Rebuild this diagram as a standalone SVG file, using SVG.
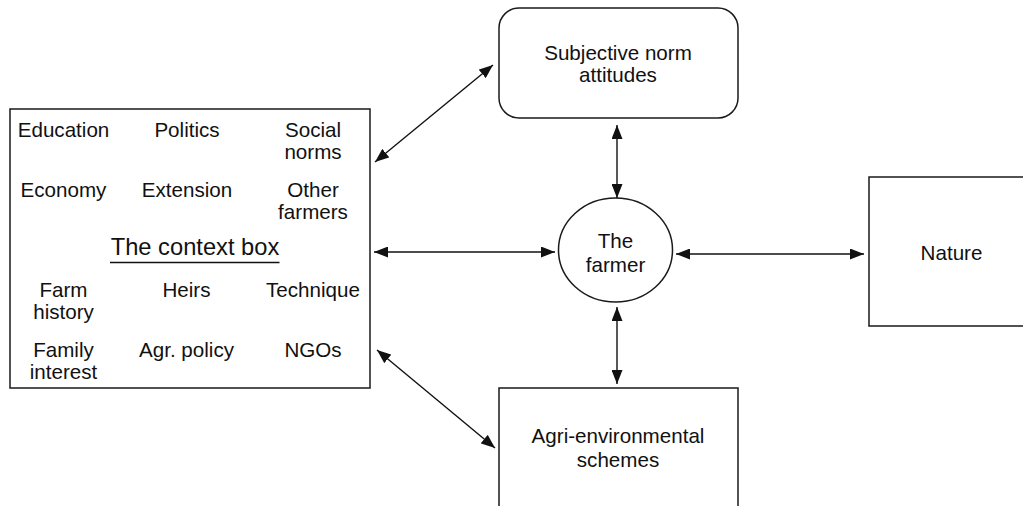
<svg xmlns="http://www.w3.org/2000/svg" width="1023" height="506" viewBox="0 0 1023 506">
<style>
.box{fill:#fff;stroke:#1a1a1a;stroke-width:1.5}
.t{font-family:"Liberation Sans",Arial,sans-serif;font-size:20.6px;fill:#111;text-anchor:middle}
.title{font-size:23.7px}
.c{stroke:#111;stroke-width:1.4;fill:none;marker-start:url(#ah);marker-end:url(#ah)}
</style>
<defs>
<marker id="ah" viewBox="0 0 14 11" refX="14" refY="5.5" markerWidth="14" markerHeight="11" markerUnits="userSpaceOnUse" orient="auto-start-reverse">
<path d="M0,0 L14,5.5 L0,11 Z" fill="#111"/>
</marker>
</defs>
<rect width="1023" height="506" fill="#fff"/>
<g id="context">
<rect class="box" x="10" y="109" width="360" height="279"/>
<text class="t" x="63.5" y="136.5">Education</text>
<text class="t" x="187" y="136.5">Politics</text>
<text class="t" x="313" y="136.5">Social</text>
<text class="t" x="313" y="158.5">norms</text>
<text class="t" x="63.5" y="197">Economy</text>
<text class="t" x="187" y="197">Extension</text>
<text class="t" x="313" y="197">Other</text>
<text class="t" x="313" y="218.5">farmers</text>
<text class="t title" x="195" y="255">The context box</text>
<line x1="110" y1="262.5" x2="279.5" y2="262.5" stroke="#111" stroke-width="1.3"/>
<text class="t" x="63.5" y="297">Farm</text>
<text class="t" x="63.5" y="318.5">history</text>
<text class="t" x="186.5" y="297">Heirs</text>
<text class="t" x="313" y="297">Technique</text>
<text class="t" x="63.5" y="357">Family</text>
<text class="t" x="63.5" y="378.5">interest</text>
<text class="t" x="186.5" y="357">Agr. policy</text>
<text class="t" x="313" y="357">NGOs</text>
</g>
<g id="subjective">
<rect class="box" x="499" y="8" width="239" height="110" rx="20" ry="20"/>
<text class="t" x="618" y="60">Subjective norm</text>
<text class="t" x="618" y="82">attitudes</text>
</g>
<g id="farmer">
<ellipse class="box" cx="615.5" cy="250" rx="57" ry="52"/>
<text class="t" x="615.5" y="248">The</text>
<text class="t" x="615.5" y="271.5">farmer</text>
</g>
<g id="nature">
<rect class="box" x="869" y="177" width="160" height="149"/>
<text class="t" x="951.5" y="260">Nature</text>
</g>
<g id="agri">
<rect class="box" x="499" y="388" width="239" height="130"/>
<text class="t" x="618" y="443">Agri-environmental</text>
<text class="t" x="618" y="466.5">schemes</text>
</g>
<g id="connectors">
<line class="c" x1="375" y1="162" x2="493" y2="65"/>
<line class="c" x1="617" y1="125" x2="617" y2="198"/>
<line class="c" x1="374" y1="252" x2="555" y2="252"/>
<line class="c" x1="676" y1="254" x2="864" y2="254"/>
<line class="c" x1="617" y1="307" x2="617" y2="384"/>
<line class="c" x1="377" y1="350" x2="495" y2="448"/>
</g>
</svg>
